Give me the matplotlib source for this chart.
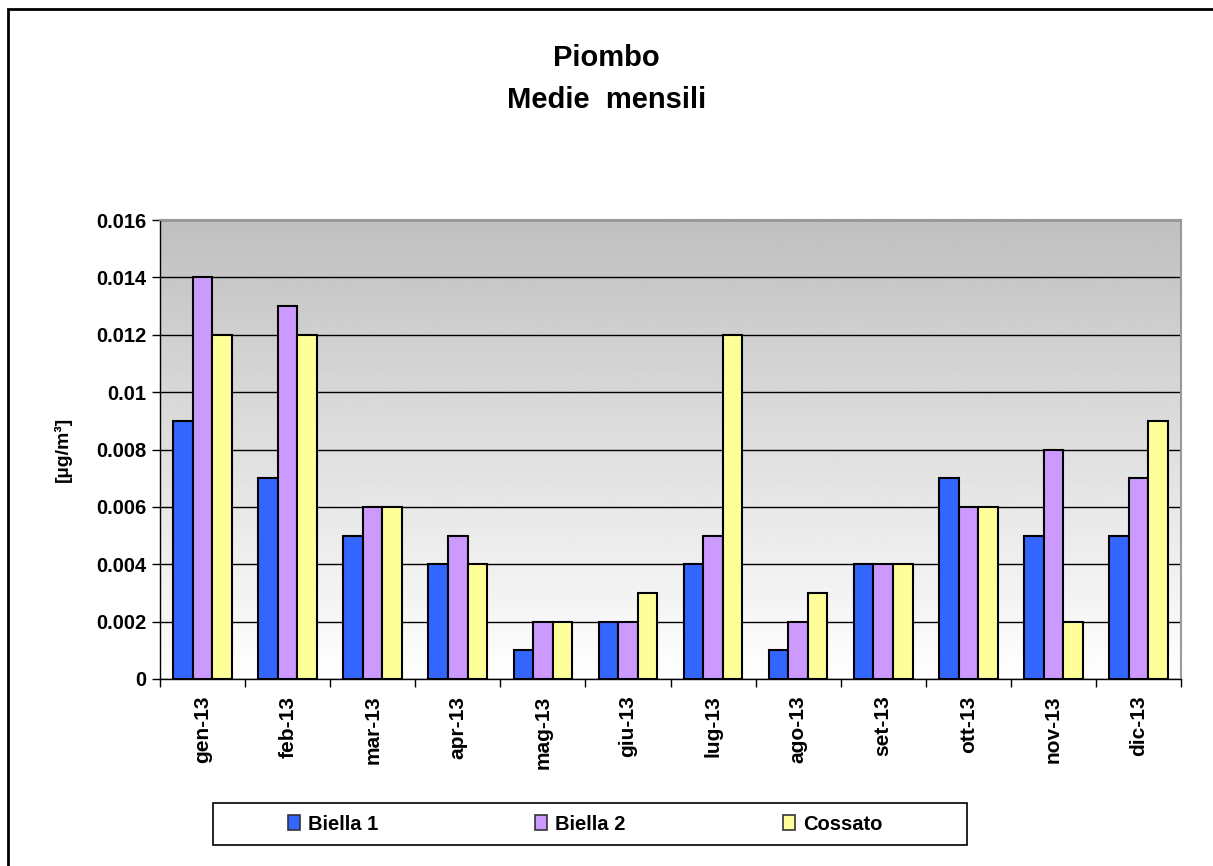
import numpy as np
import matplotlib.pyplot as plt
from matplotlib.patches import Rectangle

plt.rcParams['font.family'] = ['Liberation Sans', 'DejaVu Sans']
plt.rcParams['font.weight'] = 'bold'

# data
months = ['gen-13', 'feb-13', 'mar-13', 'apr-13', 'mag-13', 'giu-13',
          'lug-13', 'ago-13', 'set-13', 'ott-13', 'nov-13', 'dic-13']
biella1 = [0.009, 0.007, 0.005, 0.004, 0.001, 0.002, 0.004, 0.001, 0.004, 0.007, 0.005, 0.005]
biella2 = [0.014, 0.013, 0.006, 0.005, 0.002, 0.002, 0.005, 0.002, 0.004, 0.006, 0.008, 0.007]
cossato = [0.012, 0.012, 0.006, 0.004, 0.002, 0.003, 0.012, 0.003, 0.004, 0.006, 0.002, 0.009]
yticks = [0, 0.002, 0.004, 0.006, 0.008, 0.01, 0.012, 0.014, 0.016]
ytick_labels = ['0', '0.002', '0.004', '0.006', '0.008', '0.01', '0.012', '0.014', '0.016']

series = [('Biella 1', biella1, '#3366FF'),
          ('Biella 2', biella2, '#CC99FF'),
          ('Cossato', cossato, '#FFFF99')]

fig = plt.figure(figsize=(12.13, 8.66), dpi=100)
ax = fig.add_axes([160 / 1213, 1 - 679 / 866, (1181 - 160) / 1213, (679 - 220) / 866])

x = np.arange(len(months))
w = 0.23

# gray (top) to white (bottom) gradient background
grad = np.linspace(0.75, 1.0, 256).reshape(-1, 1)
ax.imshow(grad, cmap='gray', vmin=0, vmax=1, aspect='auto', origin='upper',
          extent=[-0.5, len(months) - 0.5, 0, 0.016], zorder=0)

for i, (name, vals, col) in enumerate(series):
    ax.bar(x + (i - 1) * w, vals, width=w, color=col, edgecolor='black',
           linewidth=1.5, label=name, zorder=3)

ax.set_xlim(-0.5, len(months) - 0.5)
ax.set_ylim(0, 0.016)
ax.set_yticks(yticks)
ax.set_yticklabels(ytick_labels, fontsize=14.5, fontweight='bold')
ax.set_axisbelow(True)
ax.grid(True, axis='y', color='black', linewidth=1)

ax.set_xticks(x)
ax.set_xticklabels(months, rotation=90, fontsize=15, fontweight='bold')
ax.tick_params(axis='x', which='major', length=0, pad=12)
ax.set_xticks(np.arange(len(months) + 1) - 0.5, minor=True)
ax.tick_params(axis='x', which='minor', length=6, width=1, direction='out')
ax.tick_params(axis='y', length=6, width=1, direction='out', pad=4)

for s in ['top', 'right']:
    ax.spines[s].set_color('#999999')
    ax.spines[s].set_linewidth(1.5)
for s in ['left', 'bottom']:
    ax.spines[s].set_color('black')
    ax.spines[s].set_linewidth(1)

ax.set_ylabel('[µg/m³]', fontsize=14, fontweight='bold')
ax.yaxis.set_label_coords((72 - 160) / 1021, 0.5)

fig.text(0.5, 1 - 58 / 866, 'Piombo', ha='center', va='center', fontsize=21, fontweight='bold')
fig.text(0.5, 1 - 100 / 866, 'Medie  mensili', ha='center', va='center', fontsize=21, fontweight='bold')

leg = fig.legend(loc='center', ncol=3, bbox_to_anchor=(585 / 1213, 1 - 824 / 866),
                 frameon=False, handlelength=0.6, handleheight=0.8, handletextpad=0.4,
                 columnspacing=7.8, prop={'size': 14.5, 'weight': 'bold'})
for h in leg.legend_handles:
    h.set_edgecolor('#333333')
    h.set_linewidth(1.2)

# legend box
fig.patches.append(Rectangle((213 / 1213, 1 - 845 / 866), (967 - 213) / 1213, 42 / 866,
                             transform=fig.transFigure, fill=False,
                             edgecolor='black', linewidth=1.2))

# outer chart border
fig.patches.append(Rectangle((8 / 1213, -0.05), 1.1, 1 - 9 / 866 + 0.05,
                             transform=fig.transFigure, fill=False,
                             edgecolor='black', linewidth=2))

fig.savefig('out.png', dpi=100)
